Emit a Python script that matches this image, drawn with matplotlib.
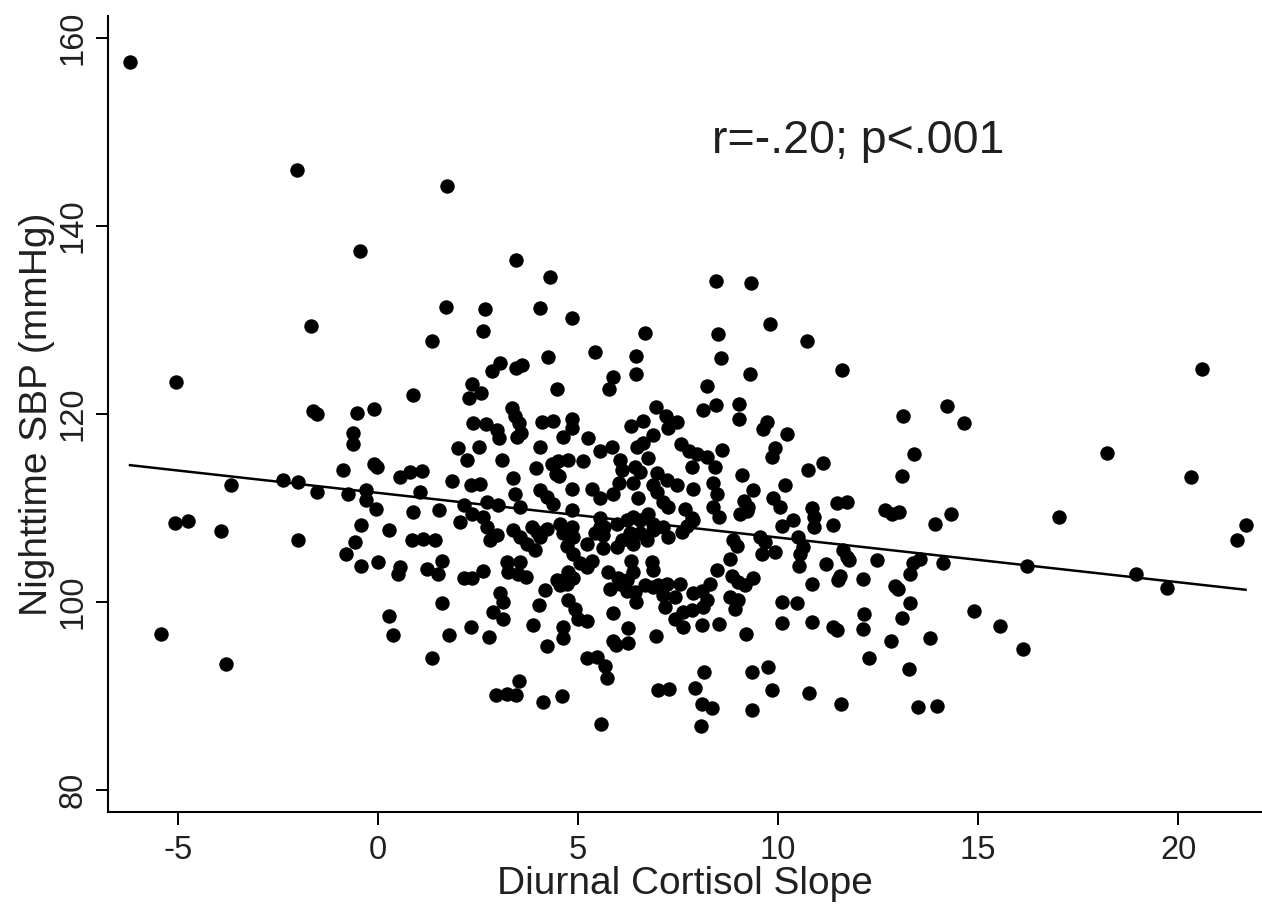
import numpy as np
import matplotlib
matplotlib.use("Agg")
import matplotlib.pyplot as plt

plt.rcParams['font.family'] = ['Liberation Sans', 'DejaVu Sans']

# (diurnal cortisol slope, nighttime SBP)
left_pts = [
    (-6.20, 157.4), (-2.03, 145.9), (-0.45, 137.3), (-1.68, 129.3),
    (-5.05, 123.4), (-1.62, 120.3), (-1.53, 120.0), (-0.52, 120.1), (-0.09, 120.5),
    (-0.63, 118.0), (-0.63, 116.8), (-0.87, 114.0), (-0.10, 114.7), (-0.03, 114.4),
    (-3.67, 112.4), (-2.38, 113.0), (-1.99, 112.8), (-1.53, 111.7), (-0.74, 111.5),
    (-0.30, 111.9), (-0.30, 110.8), (-0.05, 109.9),
    (-5.08, 108.4), (-4.74, 108.6), (-3.93, 107.5), (-1.99, 106.6), (-0.43, 108.2),
    (-0.57, 106.4), (0.28, 107.6), (-0.81, 105.1), (-0.43, 103.8), (0.01, 104.3),
    (0.51, 103.0), (-5.42, 96.6), (-3.80, 93.4), (0.28, 98.5), (0.37, 96.5),
]

centre_pts = [
    (1.73, 144.2),
    (3.46, 136.4), (4.30, 134.5), (8.45, 134.1), (9.33, 133.9), (1.70, 131.4), (2.68, 131.2),
    (4.06, 131.3), (4.86, 130.2), (9.80, 129.5), (2.62, 128.8), (6.68, 128.6), (8.49, 128.5),
    (1.35, 127.7), (10.72, 127.7), (5.43, 126.6), (6.46, 126.2), (4.26, 126.0), (8.57, 125.9),
    (3.06, 125.4), (2.86, 124.6), (3.46, 124.9), (3.59, 125.2), (11.61, 124.7), (6.46, 124.2),
    (9.29, 124.2),
    (2.35, 123.2), (2.58, 122.2), (2.27, 121.7), (0.88, 122.0), (4.48, 122.6), (5.88, 123.9),
    (5.78, 122.6), (8.22, 123.0), (8.13, 120.4), (8.44, 120.9), (9.03, 121.1), (9.03, 119.5),
    (6.96, 120.7), (7.20, 119.8), (7.47, 119.1), (7.26, 118.5),
    (3.36, 120.6), (3.43, 119.8), (3.52, 119.0), (3.58, 118.0), (3.47, 117.5), (2.38, 119.0),
    (2.69, 118.9), (2.97, 118.3), (3.03, 117.4), (4.09, 119.1), (4.38, 119.2), (4.84, 119.4),
    (4.63, 117.5), (4.85, 118.5), (5.26, 117.4), (6.32, 118.7), (6.62, 119.2), (6.88, 117.7),
    (6.48, 116.5), (6.63, 116.9), (7.58, 116.8), (7.78, 116.0), (7.98, 115.7), (8.22, 115.4),
    (8.43, 114.4), (9.72, 119.1), (9.62, 118.4), (10.22, 117.9), (2.01, 116.4), (2.52, 116.5),
    (9.93, 116.4), (9.85, 115.4), (8.59, 116.2),
    (2.23, 115.1), (3.11, 115.1), (3.95, 114.2), (4.05, 116.5), (4.34, 114.7), (4.51, 115.0),
    (4.75, 115.1), (5.12, 115.0), (4.44, 113.6), (4.53, 113.4), (5.55, 116.1), (5.84, 116.5),
    (6.05, 115.1), (6.09, 114.0), (6.43, 114.4), (6.55, 113.8), (6.76, 115.3), (6.97, 113.7),
    (7.84, 114.4), (9.09, 113.5), (10.75, 114.0), (11.13, 114.8), (10.18, 112.4), (1.84, 112.9),
    (2.32, 112.4), (2.55, 112.5), (3.38, 113.2), (0.55, 113.3), (0.80, 113.8), (1.09, 113.9),
    (4.86, 112.0),
    (1.05, 111.7), (3.42, 111.5), (4.05, 111.9), (4.22, 111.2), (4.38, 110.4), (5.34, 112.0),
    (5.55, 111.0), (5.88, 111.5), (6.03, 112.6), (6.38, 112.6), (6.51, 111.0), (6.88, 112.4),
    (6.97, 111.7), (7.22, 113.0), (7.47, 112.4), (7.13, 110.6), (7.26, 110.1), (7.87, 112.0),
    (8.37, 112.6), (8.47, 111.5), (9.38, 111.9), (9.15, 110.7), (9.26, 110.1), (9.87, 111.0),
    (10.05, 110.1), (10.85, 110.0), (10.91, 109.0), (11.48, 110.5), (11.72, 110.6), (0.87, 109.6),
    (1.53, 109.8), (2.15, 110.3), (2.34, 109.4), (2.73, 110.6), (3.01, 110.3), (3.55, 110.1),
    (4.84, 109.8), (5.55, 108.9), (5.65, 108.0), (5.97, 108.3), (6.22, 108.7), (6.38, 109.0),
    (6.55, 108.7), (6.76, 109.4), (6.88, 108.3), (7.68, 109.9), (7.84, 108.9), (8.38, 110.1),
    (8.53, 109.0), (9.05, 109.4), (9.22, 109.7), (11.38, 108.2), (10.91, 108.0),
    (2.05, 108.5), (2.63, 109.0), (2.72, 108.0), (2.80, 106.6), (2.97, 107.1), (3.38, 107.6),
    (3.55, 106.9), (3.72, 106.2), (3.93, 105.5), (3.84, 108.0), (3.97, 107.4), (4.05, 106.9),
    (4.22, 107.8), (4.55, 108.3), (4.63, 107.3), (4.72, 106.0), (4.84, 108.0), (4.88, 106.9),
    (5.22, 106.2), (5.43, 107.3), (5.63, 105.7), (5.55, 108.0), (5.63, 107.1), (5.97, 105.8),
    (6.09, 106.6), (6.30, 107.3), (6.38, 106.2), (6.55, 107.3), (6.72, 106.6), (6.88, 107.6),
    (7.13, 108.0), (7.26, 106.9), (7.59, 107.4), (7.72, 108.1), (7.88, 108.7), (8.88, 106.6),
    (8.97, 106.0), (8.80, 104.6), (9.55, 106.9), (9.68, 106.4), (9.59, 105.1), (9.93, 105.3),
    (10.51, 106.9), (10.63, 105.8), (10.55, 105.1), (11.63, 105.5), (11.72, 104.8), (0.86, 106.6),
    (1.13, 106.7), (1.43, 106.6), (10.38, 108.7), (10.09, 108.1),
    (0.55, 103.7), (1.22, 103.5), (1.51, 103.0), (1.61, 104.4), (2.15, 102.6), (2.34, 102.6),
    (2.62, 103.3), (3.22, 104.2), (3.55, 104.2), (3.26, 103.2), (3.51, 103.0), (3.70, 102.7),
    (4.47, 102.3), (4.63, 102.3), (4.76, 103.2), (4.88, 102.5), (5.05, 104.1), (5.22, 103.7),
    (5.34, 104.4), (4.88, 105.1), (5.76, 103.2), (6.33, 104.4), (6.38, 103.2), (6.84, 104.2),
    (6.88, 103.4), (6.01, 102.5), (6.22, 102.3), (8.47, 103.4), (8.84, 102.8), (9.38, 102.5),
    (9.18, 101.8), (9.01, 102.1), (10.53, 103.8), (11.20, 104.0), (11.55, 102.8), (11.49, 102.3),
    (10.84, 101.9),
    (1.59, 99.9), (3.05, 100.9), (3.13, 100.0), (2.88, 98.9), (3.13, 98.2), (4.03, 99.7),
    (4.18, 101.3), (4.55, 101.8), (4.72, 101.9), (4.76, 100.2), (4.93, 99.3), (5.01, 98.2),
    (5.22, 98.0), (5.80, 101.4), (6.05, 101.9), (6.22, 101.2), (6.43, 101.1), (6.45, 100.0),
    (6.68, 101.8), (6.88, 101.6), (7.01, 101.8), (7.22, 101.9), (7.13, 100.7), (7.18, 99.5),
    (7.43, 100.5), (7.55, 101.9), (7.88, 100.9), (8.09, 101.2), (8.22, 100.2), (8.30, 101.9),
    (8.13, 99.5), (8.80, 100.5), (8.93, 99.3), (9.01, 100.2), (10.10, 100.0), (10.47, 99.9),
    (5.88, 98.8), (7.84, 99.1), (7.63, 98.9), (7.43, 98.2),
    (1.78, 96.5), (2.32, 97.3), (2.78, 96.3), (3.88, 97.5), (4.62, 97.3), (4.63, 96.2),
    (4.22, 95.3), (5.88, 95.9), (5.95, 95.4), (6.26, 97.2), (6.24, 95.6), (6.95, 96.4),
    (7.63, 97.3), (8.11, 97.5), (8.53, 97.7), (9.20, 96.6), (10.10, 97.8), (10.85, 97.9),
    (11.38, 97.3), (11.47, 97.0),
    (1.36, 94.0), (5.22, 94.0), (5.47, 94.1), (5.68, 93.2), (5.73, 91.9), (8.15, 92.5),
    (9.36, 92.6), (9.76, 93.1),
    (2.95, 90.1), (3.22, 90.2), (3.45, 90.1), (3.53, 91.6), (4.13, 89.4), (4.61, 90.0),
    (7.01, 90.6), (7.28, 90.7), (7.92, 90.9), (9.86, 90.6), (10.78, 90.3), (8.09, 89.1),
    (8.34, 88.7), (9.34, 88.5), (11.58, 89.2), (5.58, 87.0), (8.07, 86.8),
]

right_pts = [
    (20.61, 124.8), (13.13, 119.8), (14.22, 120.8), (14.66, 119.0), (13.41, 115.7),
    (18.23, 115.8), (20.33, 113.3), (13.11, 113.4), (11.78, 104.5),
    (12.68, 109.8), (12.84, 109.4), (13.03, 109.6), (14.32, 109.4), (13.93, 108.3),
    (17.03, 109.0), (21.69, 108.2), (21.47, 106.6),
    (12.47, 104.5), (13.38, 104.1), (13.55, 104.6), (13.30, 103.0), (14.12, 104.1),
    (16.22, 103.8), (18.94, 103.0), (19.72, 101.5),
    (12.13, 102.4), (12.93, 101.7), (13.01, 101.4), (13.30, 99.9), (14.91, 99.05),
    (15.54, 97.4), (16.12, 95.0),
    (12.16, 98.7), (12.13, 97.1), (13.11, 98.3), (12.82, 95.9), (13.80, 96.2),
    (12.28, 94.0), (13.28, 92.9), (13.49, 88.8), (13.98, 88.9),
]

# fitted line
fit_slope = -0.475
fit_intercept = 111.6

x_ticks = [-5, 0, 5, 10, 15, 20]
y_ticks = [80, 100, 120, 140, 160]

pts = np.array(left_pts + centre_pts + right_pts)
slope, sbp = pts[:, 0], pts[:, 1]

W, H = 1262, 906
fig = plt.figure(figsize=(W / 100, H / 100), dpi=100)
ax = fig.add_axes([108 / W, 1 - 811.7 / H, (W - 108) / W, (811.7 - 16) / H])

txt = '#231f20'
ax.scatter(slope, sbp, s=108, color='black', linewidths=0, zorder=3)

line_x = np.array([slope.min(), slope.max()])
ax.plot(line_x, fit_intercept + fit_slope * line_x, color='black', lw=1.8, zorder=2)

ax.text(8.35, 147.7, 'r=-.20; p<.001', fontsize=33.5, color=txt, ha='left', va='baseline')

ax.set_xlim(-6.75, 22.1)
ax.set_ylim(77.7, 162.3)
ax.set_xticks(x_ticks)
ax.set_yticks(y_ticks)
ax.set_xticklabels([str(v) for v in x_ticks])
ax.set_yticklabels([str(v) for v in y_ticks], rotation=90, va='center')

for s in ['top', 'right']:
    ax.spines[s].set_visible(False)
for s in ['left', 'bottom']:
    ax.spines[s].set_linewidth(1.5)

ax.tick_params(axis='both', direction='out', length=9, width=1.4, labelsize=23.5,
               colors='black', labelcolor=txt)
ax.tick_params(axis='x', pad=8)
ax.tick_params(axis='y', pad=5)

ax.set_xlabel('Diurnal Cortisol Slope', fontsize=28, color=txt, labelpad=0)
ax.set_ylabel('Nighttime SBP (mmHg)', fontsize=28, color=txt, labelpad=2)

fig.savefig('out.png', dpi=100)
